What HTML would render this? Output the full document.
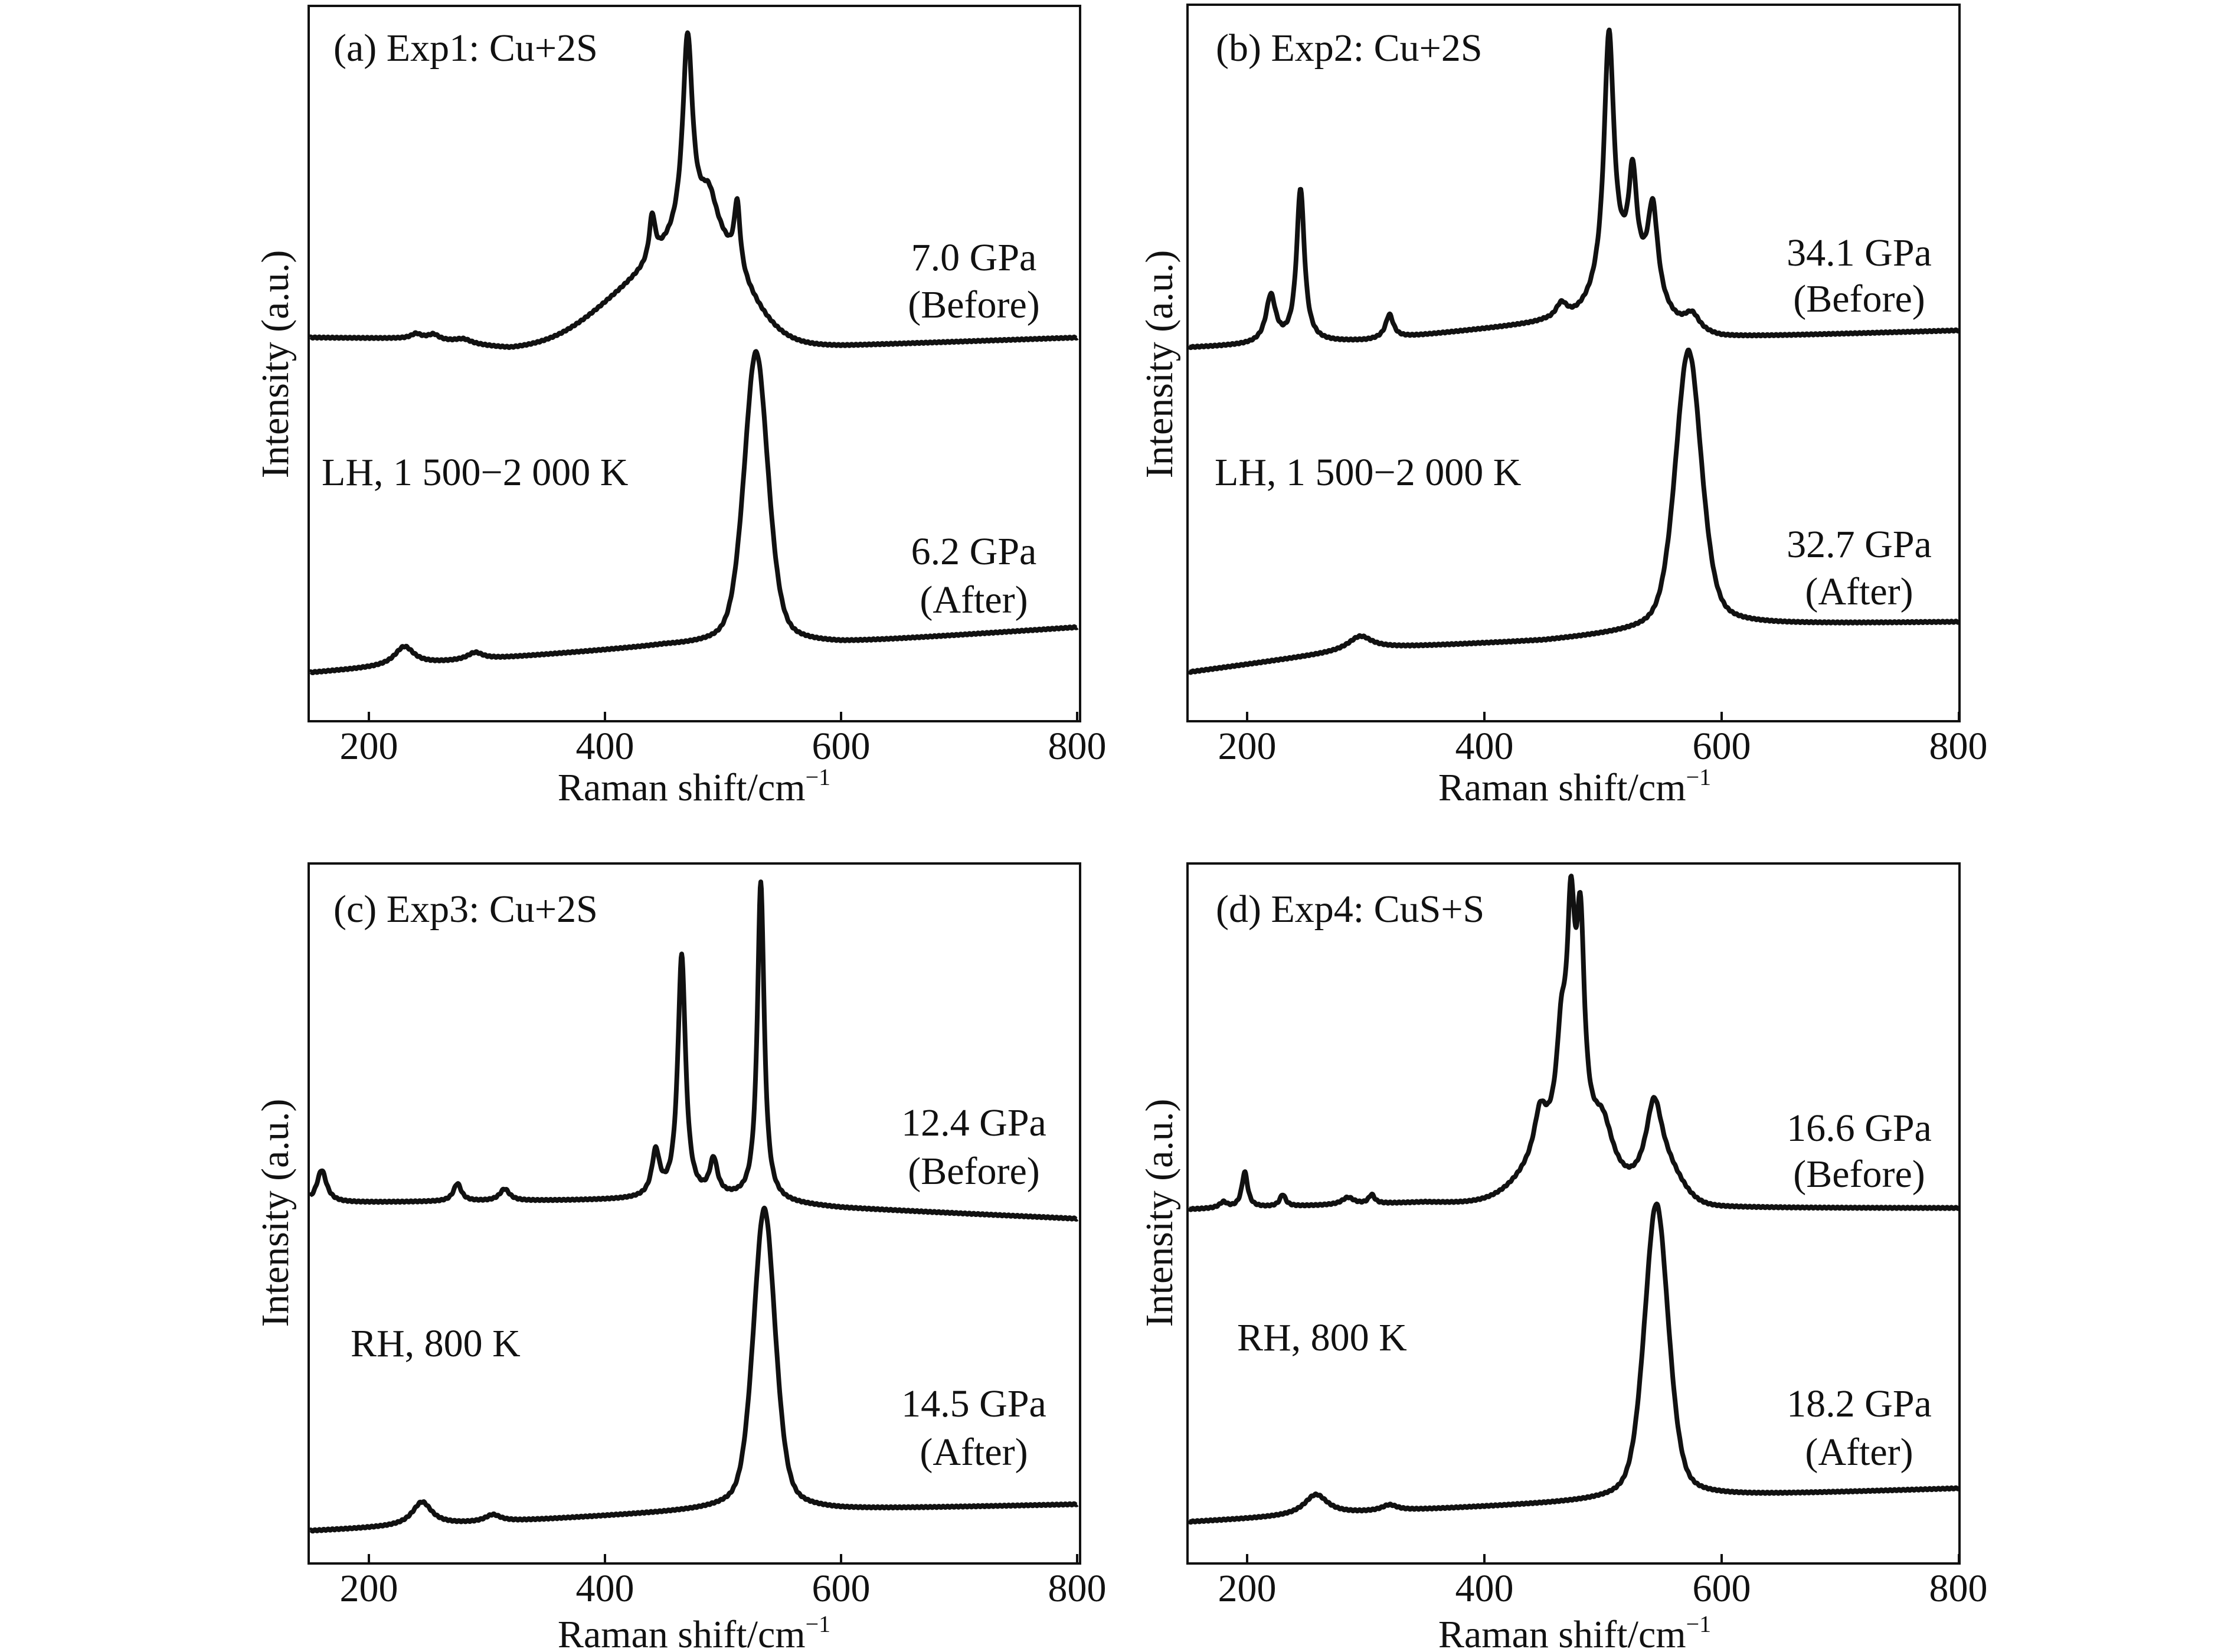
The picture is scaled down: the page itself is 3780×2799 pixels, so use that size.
<!DOCTYPE html>
<html><head><meta charset="utf-8"><style>
html,body{margin:0;padding:0;background:#fff;}
svg{display:block;}
text{font-family:"Liberation Serif","DejaVu Serif",serif;fill:#111;}
</style></head><body>
<svg id="s" width="3780" height="2799" viewBox="0 0 3780 2799" xmlns="http://www.w3.org/2000/svg">
<rect width="3780" height="2799" fill="#fff"/>
<g id="g"></g>
<g font-size="66">
<text x="565" y="103">(a) Exp1: Cu+2S</text>
<text x="1650" y="458" text-anchor="middle">7.0 GPa</text>
<text x="1650" y="538" text-anchor="middle">(Before)</text>
<text x="545" y="822">LH, 1 500−2 000 K</text>
<text x="1650" y="956" text-anchor="middle">6.2 GPa</text>
<text x="1650" y="1038" text-anchor="middle">(After)</text>

<text x="2060" y="103">(b) Exp2: Cu+2S</text>
<text x="3150" y="450" text-anchor="middle">34.1 GPa</text>
<text x="3150" y="528" text-anchor="middle">(Before)</text>
<text x="2058" y="822">LH, 1 500−2 000 K</text>
<text x="3150" y="944" text-anchor="middle">32.7 GPa</text>
<text x="3150" y="1024" text-anchor="middle">(After)</text>

<text x="565" y="1562">(c) Exp3: Cu+2S</text>
<text x="1650" y="1924" text-anchor="middle">12.4 GPa</text>
<text x="1650" y="2006" text-anchor="middle">(Before)</text>
<text x="594" y="2298">RH, 800 K</text>
<text x="1650" y="2400" text-anchor="middle">14.5 GPa</text>
<text x="1650" y="2482" text-anchor="middle">(After)</text>

<text x="2060" y="1562">(d) Exp4: CuS+S</text>
<text x="3150" y="1933" text-anchor="middle">16.6 GPa</text>
<text x="3150" y="2011" text-anchor="middle">(Before)</text>
<text x="2096" y="2288">RH, 800 K</text>
<text x="3150" y="2400" text-anchor="middle">18.2 GPa</text>
<text x="3150" y="2482" text-anchor="middle">(After)</text>
</g>
<g font-size="66" text-anchor="middle">
<text transform="translate(488,617) rotate(-90)">Intensity (a.u.)</text>
<text transform="translate(1986,617) rotate(-90)">Intensity (a.u.)</text>
<text transform="translate(488,2055) rotate(-90)">Intensity (a.u.)</text>
<text transform="translate(1986,2055) rotate(-90)">Intensity (a.u.)</text>
<text x="1176" y="1356">Raman shift/cm<tspan font-size="40" dy="-26">−1</tspan></text>
<text x="2668" y="1356">Raman shift/cm<tspan font-size="40" dy="-26">−1</tspan></text>
<text x="1176" y="2791">Raman shift/cm<tspan font-size="40" dy="-26">−1</tspan></text>
<text x="2668" y="2791">Raman shift/cm<tspan font-size="40" dy="-26">−1</tspan></text>
</g>
</svg>
<script>
(function(){
var g=document.getElementById('g');var NS='http://www.w3.org/2000/svg';
function add(tag,at){var e=document.createElementNS(NS,tag);for(var k in at)e.setAttribute(k,at[k]);g.appendChild(e);return e;}
function txt(x,y,s,fs,anchor){var e=add('text',{x:x,y:y,'font-size':fs,'text-anchor':anchor||'middle'});e.textContent=s;}
var panels=[
 {L:523,R:1830,T:10,B:1222,x200:625,sx:2.0},
 {L:2012,R:3320,T:8,B:1222,x200:2113,sx:2.01},
 {L:523,R:1830,T:1463,B:2649,x200:625,sx:2.0},
 {L:2012,R:3320,T:1463,B:2649,x200:2113,sx:2.01}
];
function interp(pts,v){for(var i=0;i<pts.length-1;i++){if(v<=pts[i+1][0]){var t=(v-pts[i][0])/(pts[i+1][0]-pts[i][0]);return pts[i][1]+t*(pts[i+1][1]-pts[i][1]);}}return pts[pts.length-1][1];}
function Lz(c,A,w){return ['L',c,A,w];}function Gs(c,A,s){return ['G',c,A,s];}
function V(c,A,w){return ['V',c,A,w];}
function curve(p,base,comps){
 var d='';var start=(p.L-p.x200)/p.sx+200+1;var end=Math.min(800,(p.R-p.x200)/p.sx+200);
 for(var v=start;v<=end;v+=0.5){
  var y=interp(base,v);
  for(var i=0;i<comps.length;i++){var c=comps[i];var u=(v-c[1])/c[3];
   if(c[0]=='L'){y-=c[2]/(1+u*u);}
   else if(c[0]=='G'){y-=c[2]*Math.exp(-0.5*u*u);}
   else {y-=c[2]*(0.4/(1+u*u)+0.6*Math.exp(-0.693*u*u));}}
  y+=Math.sin(v*1.7)*1.2;
  var x=p.x200+(v-200)*p.sx;
  d+=(d?'L':'M')+x.toFixed(1)+' '+y.toFixed(1);
 }
 add('path',{d:d,fill:'none',stroke:'#111','stroke-width':8,'stroke-linejoin':'round'});
}
panels.forEach(function(p){
 add('rect',{x:p.L,y:p.T,width:p.R-p.L,height:p.B-p.T,fill:'none',stroke:'#111','stroke-width':4});
 [200,400,600,800].forEach(function(v){var x=Math.min(p.x200+(v-200)*p.sx,p.R);
  add('line',{x1:x,y1:p.B,x2:x,y2:p.B-16,stroke:'#111','stroke-width':4});
  txt(Math.min(x,p.R-2),p.B+64,String(v),66);
 });
});
var P=panels;
curve(P[0],[[150,572],[250,574],[320,592],[450,588],[600,586],[800,572]],
 [Gs(440,110,45),Gs(490,130,30),Lz(470,330,5),Lz(488,60,8),Lz(512,110,3),Lz(440,75,3),Lz(240,8,5),Lz(255,8,5),Lz(280,7,8)]);
curve(P[0],[[150,1140],[300,1117],[450,1095],[600,1090],[800,1063]],
 [V(528,496,12),Lz(230,32,10),Lz(290,12,8)]);
curve(P[1],[[140,590],[300,578],[450,548],[600,572],[800,560]],
 [Lz(220,80,5),Lz(245,260,4),Lz(320,40,4),Lz(465,28,6),Gs(520,95,22),Lz(505,420,5),Lz(525,160,4),Lz(542,150,5),Lz(575,30,8)]);
curve(P[1],[[140,1142],[300,1099],[450,1086],[600,1059],[800,1054]],
 [V(572,470,13),Lz(295,22,12)]);
curve(P[2],[[150,2038],[500,2032],[600,2047],[800,2065]],
 [Lz(160,55,5),Lz(275,30,4),Lz(315,20,5),Lz(443,75,4),Lz(465,410,4),Lz(492,60,4),Lz(532,540,3.5)]);
curve(P[2],[[150,2594],[300,2580],[500,2558],[600,2558],[800,2549]],
 [V(535,510,11),Lz(245,40,10),Lz(305,12,8)]);
curve(P[3],[[140,2050],[350,2038],[450,2045],[600,2047],[800,2047]],
 [Gs(470,110,30),Lz(447,70,6),Lz(465,150,5),Lz(473,330,4),Lz(481,330,4),Lz(500,70,10),Lz(543,120,8),Gs(550,60,15),
  Lz(198,60,3),Lz(230,20,3),Lz(285,12,6),Lz(305,15,3),Lz(180,10,4)]);
curve(P[3],[[140,2580],[350,2558],[500,2544],[600,2535],[800,2522]],
 [V(545,500,12),Lz(258,35,12),Lz(320,10,8)]);
})();
</script>
</body></html>
